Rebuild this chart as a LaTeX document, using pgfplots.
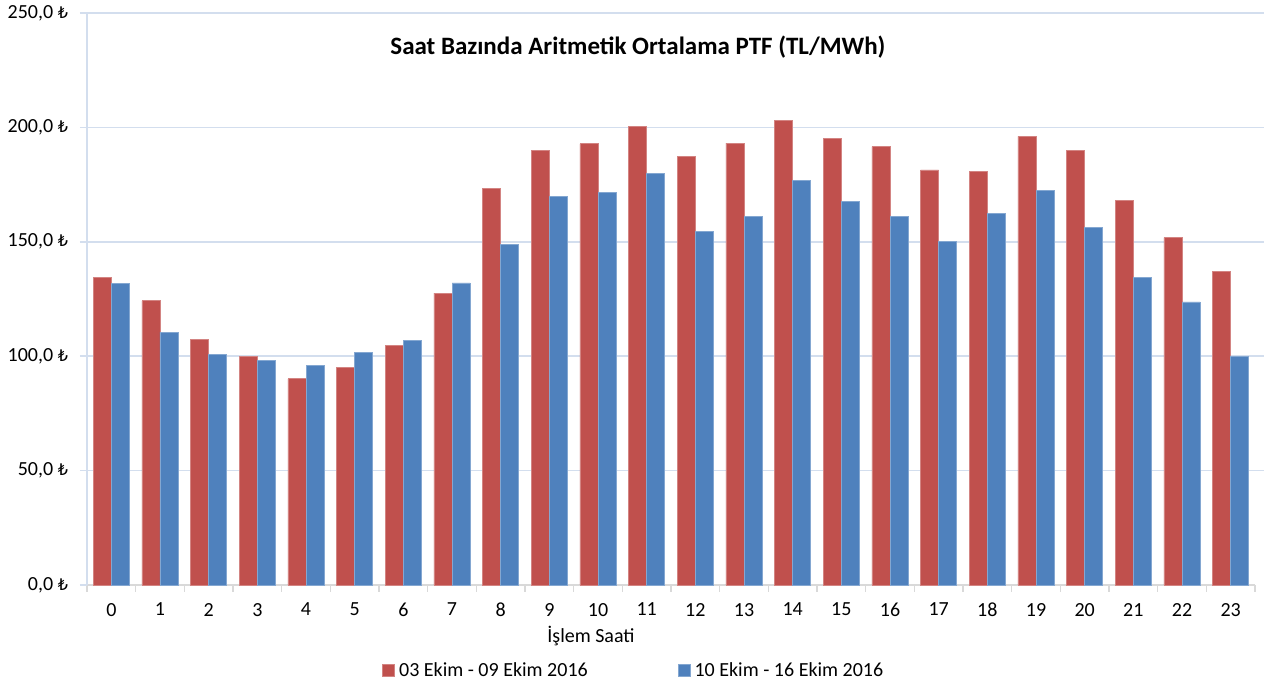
\documentclass[border=0pt]{standalone}
\usepackage{pgfplots}
\pgfplotsset{compat=1.18}
\usepackage{pgfplotstable}
\usepackage{fontspec}
\setmainfont{Carlito}
\newfontfamily\lirafont{DejaVu Sans}
\definecolor{cred}{HTML}{C0504D}
\definecolor{cblue}{HTML}{4F81BD}
\definecolor{cgrid}{HTML}{D3DEEE}
\definecolor{caxis}{HTML}{D9D9D9}

\pgfplotstableread{
h v
0 134.6
1 124.2
2 107.2
3 99.9
4 90.1
5 95.1
6 104.7
7 127.6
8 173.4
9 190.0
10 192.8
11 200.6
12 187.4
13 193.1
14 203.1
15 195.2
16 191.6
17 181.4
18 180.7
19 196.1
20 190.1
21 168.0
22 151.8
23 136.9
}\weekone

\pgfplotstableread{
h v
0 131.7
1 110.5
2 100.9
3 98.1
4 95.8
5 101.5
6 106.7
7 132.0
8 148.7
9 170.0
10 171.5
11 179.9
12 154.6
13 161.1
14 177.0
15 167.5
16 161.0
17 150.2
18 162.4
19 172.4
20 156.2
21 134.6
22 123.7
23 99.7
}\weektwo

\begin{document}
\begin{tikzpicture}
\path[use as bounding box] (-43.5pt,-51.5pt) rectangle (588.5pt,292.5pt);
\begin{axis}[
  at={(0,0)}, anchor=south west,
  width=584pt, height=286pt, scale only axis,
  xmin=-0.5, xmax=23.5, ymin=0, ymax=250,
  ybar=0pt, bar width=0.37,
  axis x line*=bottom, axis y line*=left,
  x axis line style={draw=caxis, line width=0.8pt, -},
  y axis line style={draw=cgrid, line width=0.8pt, -},
  xtick={0,...,23},
  minor xtick={-0.5,0.5,...,23.5},
  major x tick style={draw=none},
  minor x tick style={draw=caxis, line width=0.8pt},
  y tick style={draw=cgrid, line width=0.8pt},
  tick align=outside,
  major tick length=3.5pt, minor tick length=3.5pt,
  ytick={0,50,...,250},
  ymajorgrids, grid style={draw=cgrid, line width=0.8pt},
  tick label style={font=\fontsize{10}{12}\selectfont, text=black},
  /pgf/number format/assume math mode=true,
  yticklabel={\pgfmathprintnumber[fixed,fixed zerofill,precision=1,use comma]{\tick}\ {\lirafont\fontsize{8}{10}\selectfont ₺}},
  yticklabel style={xshift=-2.5pt},
  xticklabel style={yshift=-2pt},
  xlabel={İşlem Saati},
  xlabel style={at={(axis description cs:0.4315,-0.0892)}, anchor=center, font=\fontsize{10}{12}\selectfont},
  legend columns=2,
  legend style={at={(axis description cs:0.469,-0.150)}, anchor=center, draw=none, fill=none,
    font=\fontsize{10}{12}\selectfont, inner sep=0pt,
    /tikz/every even column/.append style={column sep=43pt}},
  legend image code/.code={\fill[#1] (0pt,-3pt) rectangle (6pt,3pt);},
  clip=false,
]
\draw[cgrid, line width=0.8pt] (axis cs:23.5,50) -- ++(4pt,0) (axis cs:23.5,100) -- ++(4pt,0) (axis cs:23.5,150) -- ++(4pt,0) (axis cs:23.5,200) -- ++(4pt,0) (axis cs:23.5,250) -- ++(4pt,0);
\addplot[fill=cred, draw=cred!70!white, line width=0.4pt, bar shift=-0.185] table[x=h,y=v] {\weekone};
\addlegendentry{03 Ekim - 09 Ekim 2016}
\addplot[fill=cblue, draw=cblue!70!white, line width=0.4pt, bar shift=0.185] table[x=h,y=v] {\weektwo};
\addlegendentry{10 Ekim - 16 Ekim 2016}
\node[font=\bfseries\fontsize{12.5}{15}\selectfont] at (rel axis cs:0.4717,0.9406) {Saat Bazında Aritmetik Ortalama PTF (TL/MWh)};
\end{axis}
\end{tikzpicture}
\end{document}
